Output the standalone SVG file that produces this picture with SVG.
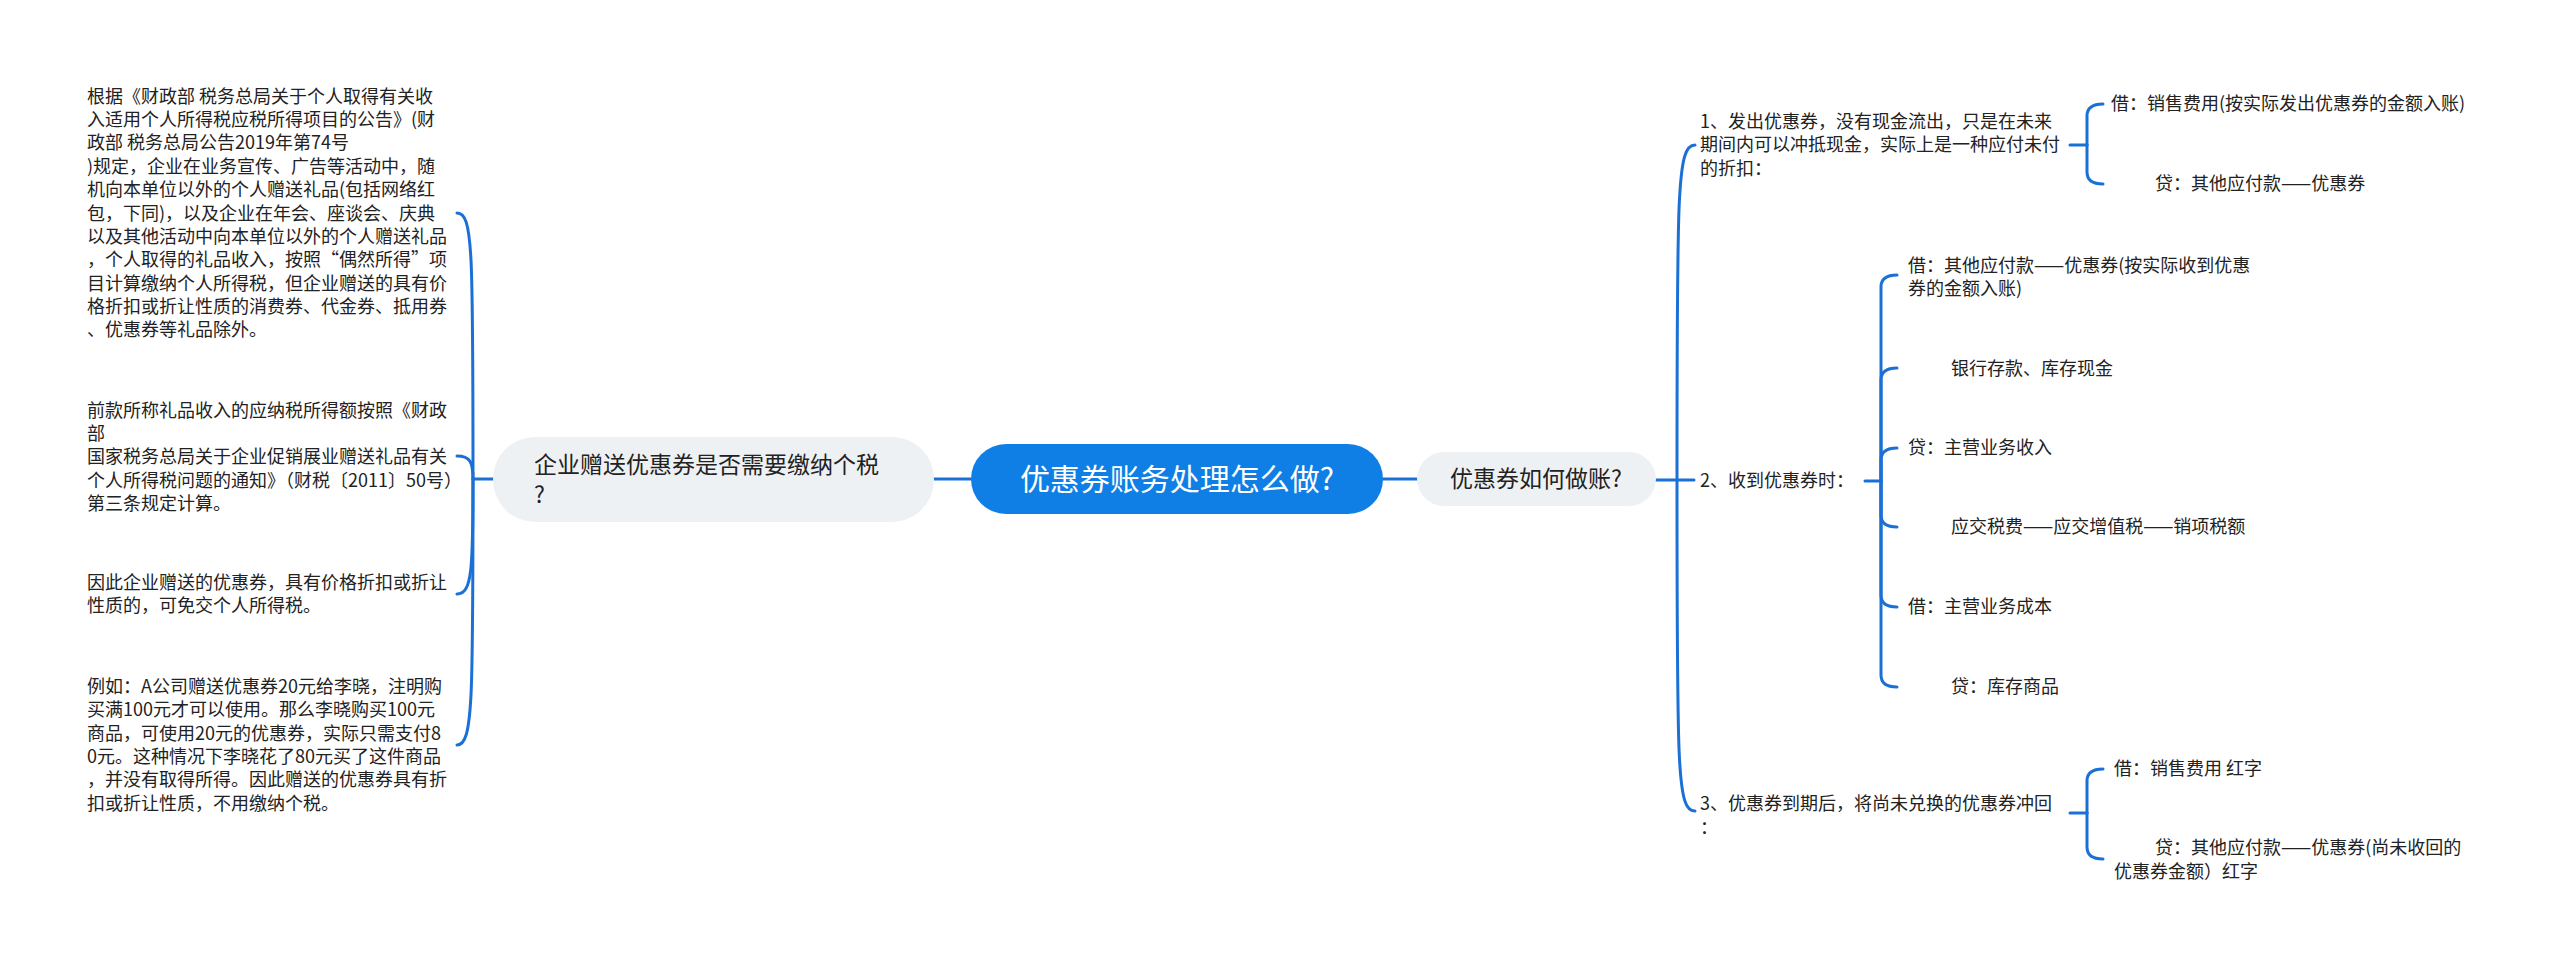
<svg xmlns="http://www.w3.org/2000/svg" width="2560" height="969" viewBox="0 0 2560 969">
<style>
.t { font-family: "Noto Sans CJK SC", "Noto Sans", sans-serif; font-size: 18px; fill: #222; }
.tm { font-family: "Noto Sans CJK SC", "Noto Sans", sans-serif; font-size: 23px; fill: #222; }
.tr { font-family: "Noto Sans CJK SC", "Noto Sans", sans-serif; font-size: 30px; fill: #fff; }
.grey { fill: #eef1f4; }
.conn { fill: none; stroke: #1b70d6; stroke-width: 3; stroke-linecap: round; }
</style>
<rect width="2560" height="969" fill="#ffffff"/>
<g id="connectors">
  <path class="conn" d="M934,479 L971,479"/>
  <path class="conn" d="M1383,479 L1417,479"/>
  <path class="conn" d="M493,479 L473,479"/>
  <path class="conn" d="M473,479 C473,250 473,213 457,213"/>
  <path class="conn" d="M473,479 C473,462 470,456 457,456"/>
  <path class="conn" d="M473,479 C473,570 472,594 457,594"/>
  <path class="conn" d="M473,479 C473,700 473,745 457,745"/>
  <path class="conn" d="M1656,480 L1694,480"/>
  <path class="conn" d="M1677,480 C1677,190 1677,145 1695,145"/>
  <path class="conn" d="M1677,480 C1677,770 1677,811 1695,811"/>
  <path class="conn" d="M2070,145 L2087,145"/>
  <path class="conn" d="M2087,145 L2087,116 Q2087,104 2103,104"/>
  <path class="conn" d="M2087,145 L2087,172 Q2087,184 2103,184"/>
  <path class="conn" d="M1865,481 L1881,481"/>
  <path class="conn" d="M1881,481 L1881,287 Q1881,275 1897,275"/>
  <path class="conn" d="M1881,481 L1881,380 Q1881,368 1897,368"/>
  <path class="conn" d="M1881,481 L1881,460 Q1881,448 1897,448"/>
  <path class="conn" d="M1881,481 L1881,515 Q1881,527 1897,527"/>
  <path class="conn" d="M1881,481 L1881,595 Q1881,607 1897,607"/>
  <path class="conn" d="M1881,481 L1881,675 Q1881,687 1897,687"/>
  <path class="conn" d="M2070,813 L2087,813"/>
  <path class="conn" d="M2087,813 L2087,781 Q2087,769 2103,769"/>
  <path class="conn" d="M2087,813 L2087,847 Q2087,859 2103,859"/>
</g>
<g id="root">
  <rect x="971" y="444" width="412" height="70" rx="35" fill="#0f7fe6"/>
  <text class="tr" x="1177" y="490" text-anchor="middle">优惠券账务处理怎么做?</text>
</g>
<g id="left-main">
  <rect class="grey" x="493" y="437" width="441" height="85" rx="42"/>
  <text class="tm"><tspan x="534" y="473">企业赠送优惠券是否需要缴纳个税</tspan><tspan x="534" y="503">?</tspan></text>
</g>
<g id="right-main">
  <rect class="grey" x="1417" y="452" width="239" height="54" rx="27"/>
  <text class="tm" x="1536" y="487" text-anchor="middle">优惠券如何做账?</text>
</g>
<g id="left-1">
  <text class="t">
    <tspan x="87" y="102.5">根据《财政部 税务总局关于个人取得有关收</tspan>
    <tspan x="87" dy="23.4">入适用个人所得税应税所得项目的公告》(财</tspan>
    <tspan x="87" dy="23.4">政部 税务总局公告2019年第74号</tspan>
    <tspan x="87" dy="23.4">)规定，企业在业务宣传、广告等活动中，随</tspan>
    <tspan x="87" dy="23.4">机向本单位以外的个人赠送礼品(包括网络红</tspan>
    <tspan x="87" dy="23.4">包，下同)，以及企业在年会、座谈会、庆典</tspan>
    <tspan x="87" dy="23.4">以及其他活动中向本单位以外的个人赠送礼品</tspan>
    <tspan x="87" dy="23.4">，个人取得的礼品收入，按照“偶然所得”项</tspan>
    <tspan x="87" dy="23.4">目计算缴纳个人所得税，但企业赠送的具有价</tspan>
    <tspan x="87" dy="23.4">格折扣或折让性质的消费券、代金券、抵用券</tspan>
    <tspan x="87" dy="23.4">、优惠券等礼品除外。</tspan>
  </text>
</g>
<g id="left-2">
  <text class="t">
    <tspan x="87" y="416.5">前款所称礼品收入的应纳税所得额按照《财政</tspan>
    <tspan x="87" dy="23.4">部</tspan>
    <tspan x="87" dy="23.4">国家税务总局关于企业促销展业赠送礼品有关</tspan>
    <tspan x="87" dy="23.4">个人所得税问题的通知》（财税〔2011〕50号）</tspan>
    <tspan x="87" dy="23.4">第三条规定计算。</tspan>
  </text>
</g>
<g id="left-3">
  <text class="t">
    <tspan x="87" y="588.6">因此企业赠送的优惠券，具有价格折扣或折让</tspan>
    <tspan x="87" dy="23.4">性质的，可免交个人所得税。</tspan>
  </text>
</g>
<g id="left-4">
  <text class="t">
    <tspan x="87" y="692.8">例如：A公司赠送优惠券20元给李晓，注明购</tspan>
    <tspan x="87" dy="23.4">买满100元才可以使用。那么李晓购买100元</tspan>
    <tspan x="87" dy="23.4">商品，可使用20元的优惠券，实际只需支付8</tspan>
    <tspan x="87" dy="23.4">0元。这种情况下李晓花了80元买了这件商品</tspan>
    <tspan x="87" dy="23.4">，并没有取得所得。因此赠送的优惠券具有折</tspan>
    <tspan x="87" dy="23.4">扣或折让性质，不用缴纳个税。</tspan>
  </text>
</g>
<g id="right-1">
  <text class="t">
    <tspan x="1700" y="127.9">1、发出优惠券，没有现金流出，只是在未来</tspan>
    <tspan x="1700" dy="23.4">期间内可以冲抵现金，实际上是一种应付未付</tspan>
    <tspan x="1700" dy="23.4">的折扣：</tspan>
  </text>
</g>
<g id="right-1-1"><text class="t" x="2111" y="110.3">借：销售费用(按实际发出优惠券的金额入账)</text></g>
<g id="right-1-2"><text class="t" x="2155" y="190.3">贷：其他应付款——优惠券</text></g>
<g id="right-2"><text class="t" x="1700" y="487.3">2、收到优惠券时：</text></g>
<g id="right-2-1">
  <text class="t"><tspan x="1908" y="271.8">借：其他应付款——优惠券(按实际收到优惠</tspan><tspan x="1908" dy="23.4">券的金额入账)</tspan></text>
</g>
<g id="right-2-2"><text class="t" x="1951" y="375.3">银行存款、库存现金</text></g>
<g id="right-2-3"><text class="t" x="1908" y="454.3">贷：主营业务收入</text></g>
<g id="right-2-4"><text class="t" x="1951" y="533.3">应交税费——应交增值税——销项税额</text></g>
<g id="right-2-5"><text class="t" x="1908" y="613.3">借：主营业务成本</text></g>
<g id="right-2-6"><text class="t" x="1951" y="693.3">贷：库存商品</text></g>
<g id="right-3">
  <text class="t"><tspan x="1700" y="810.3">3、优惠券到期后，将尚未兑换的优惠券冲回</tspan><tspan x="1700" dy="23.4">：</tspan></text>
</g>
<g id="right-3-1"><text class="t" x="2114" y="775.3">借：销售费用 红字</text></g>
<g id="right-3-2">
  <text class="t"><tspan x="2155" y="854.3">贷：其他应付款——优惠券(尚未收回的</tspan><tspan x="2114" dy="23.4">优惠券金额）红字</tspan></text>
</g>
</svg>
